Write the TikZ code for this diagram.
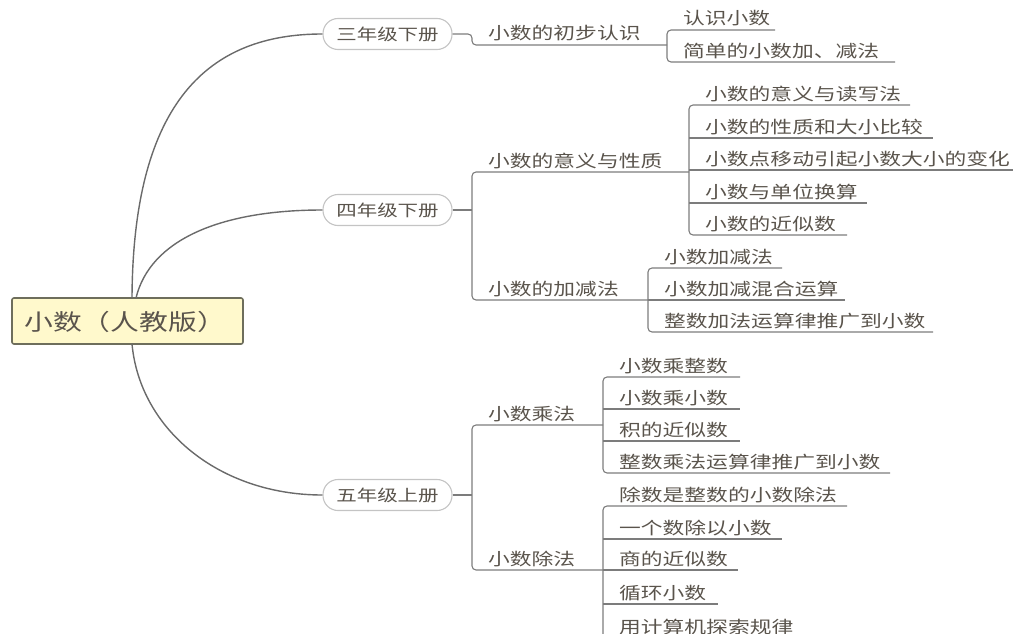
\documentclass[tikz,border=0pt]{standalone}
\usepackage{fontspec}
\newfontfamily\cjk[FakeStretch=1.28]{Noto Sans CJK SC}
\usetikzlibrary{calc}
\definecolor{txtc}{HTML}{5A544C}
\definecolor{lnc}{HTML}{7C7C7C}
\definecolor{crv}{HTML}{6A6A6A}
\definecolor{rootfill}{HTML}{FFF9CC}
\definecolor{rootdraw}{HTML}{6E6E5C}
\definecolor{gradedraw}{HTML}{C4C4C4}
\tikzset{
  ln/.style={draw=lnc, line width=1.1pt, rounded corners=4pt},
  crvline/.style={draw=crv, line width=1.4pt},
  txt/.style={inner sep=0pt, anchor=base west, text=txtc, font=\cjk\fontsize{17}{17}\selectfont},
  grade/.style={draw=gradedraw, line width=1.1pt, fill=white, rounded corners=15pt,
    minimum width=129pt, minimum height=31pt, inner sep=0pt, text=txtc,
    font=\cjk\fontsize{16}{16}\selectfont},
  rootbox/.style={draw=rootdraw, line width=1.6pt, fill=rootfill, rounded corners=2pt,
    minimum width=231pt, minimum height=46pt, inner sep=0pt, text=txtc,
    font=\cjk\fontsize{22.5}{22.5}\selectfont}
}
% name, x0, x1, y, text
\newcommand\topic[5]{%
  \coordinate (#1-l) at (#2,#4);
  \coordinate (#1-r) at (#3,#4);
  \node[txt] (#1) at ($(#1-l)+(16,-5)$) {#5};}
\begin{document}
\begin{tikzpicture}[x=1pt,y=-1pt]
\useasboundingbox (0,0) rectangle (1014,634);
% root
\node[rootbox] (root) at (127.5,321) {};
\node[txt, font=\cjk\fontsize{22.5}{22.5}\selectfont] (roottext) at (24,330) {小数（人教版）};
% grades
\node[grade] (g3) at (387.5,34) {三年级下册};
\node[grade] (g4) at (387.5,210) {四年级下册};
\node[grade] (g5) at (387.5,495) {五年级上册};
\coordinate (rt1) at (132,298);
\coordinate (rt2) at (136,298);
\coordinate (rb) at (132,344);
\draw[crvline] (rt1) .. controls (133,100) and (210,34) .. (g3.west);
\draw[crvline] (rt2) .. controls (150,240) and (220,210) .. (g4.west);
\draw[crvline] (rb) .. controls (140,430) and (220,495) .. (g5.west);

% ---- grade 3
\topic{a}{472}{667}{45}{小数的初步认识}
\topic{a1}{667}{775}{30}{认识小数}
\topic{a2}{667}{895}{62}{简单的小数加、减法}
\draw[ln] (g3.east) -- (g3.east -| a-l) -- (a-l) -- (a-r);
\draw[ln] (a1-r) -- (a1-l) -- (a2-l) -- (a2-r);

% ---- grade 4
\topic{b}{472}{689}{172}{小数的意义与性质}
\topic{c}{472}{648}{300}{小数的加减法}
\draw[ln] (g4.east) -- (g4.east -| b-l);
\draw[ln] (b-r) -- (b-l) -- (c-l) -- (c-r);
\topic{b1}{689}{910}{105}{小数的意义与读写法}
\topic{b2}{689}{933}{138}{小数的性质和大小比较}
\topic{b3}{689}{1013}{170}{小数点移动引起小数大小的变化}
\topic{b4}{689}{867}{203}{小数与单位换算}
\topic{b5}{689}{847}{235}{小数的近似数}
\draw[ln] (b1-r) -- (b1-l) -- (b5-l) -- (b5-r);
\draw[ln] (b2-l) -- (b2-r);
\draw[ln] (b3-l) -- (b3-r);
\draw[ln] (b4-l) -- (b4-r);
\topic{c1}{648}{782}{268}{小数加减法}
\topic{c2}{648}{845}{300}{小数加减混合运算}
\topic{c3}{648}{933}{332}{整数加法运算律推广到小数}
\draw[ln] (c1-r) -- (c1-l) -- (c3-l) -- (c3-r);
\draw[ln] (c2-l) -- (c2-r);

% ---- grade 5
\topic{d}{472}{603}{425}{小数乘法}
\topic{e}{472}{603}{570}{小数除法}
\draw[ln] (g5.east) -- (g5.east -| d-l);
\draw[ln] (d-r) -- (d-l) -- (e-l) -- (e-r);
\topic{d1}{603}{740}{377}{小数乘整数}
\topic{d2}{603}{740}{409}{小数乘小数}
\topic{d3}{603}{740}{441}{积的近似数}
\topic{d4}{603}{890}{473}{整数乘法运算律推广到小数}
\draw[ln] (d1-r) -- (d1-l) -- (d4-l) -- (d4-r);
\draw[ln] (d2-l) -- (d2-r);
\draw[ln] (d3-l) -- (d3-r);
\topic{e1}{603}{847}{506}{除数是整数的小数除法}
\topic{e2}{603}{782}{539}{一个数除以小数}
\topic{e3}{603}{738}{570}{商的近似数}
\topic{e4}{603}{718}{604}{循环小数}
\topic{e5}{603}{860}{638}{用计算机探索规律}
\draw[ln] (e1-r) -- (e1-l) -- (e5-l) -- (e5-r);
\draw[ln] (e2-l) -- (e2-r);
\draw[ln] (e3-l) -- (e3-r);
\draw[ln] (e4-l) -- (e4-r);
\end{tikzpicture}
\end{document}
